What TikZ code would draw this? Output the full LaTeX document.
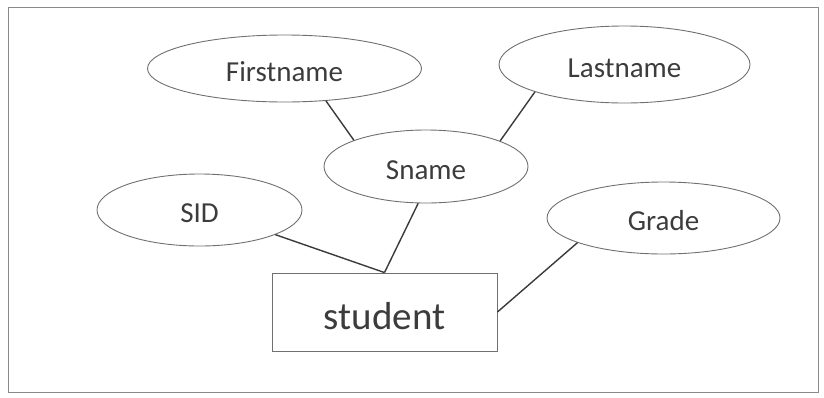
\documentclass[tikz,border=0pt]{standalone}
\usepackage{fontspec}
\setmainfont{Carlito}
\usetikzlibrary{shapes.geometric}
\definecolor{txt}{HTML}{3C3C3C}
\definecolor{edge}{HTML}{707070}
\definecolor{conn}{HTML}{3A3A3A}
\definecolor{frame}{HTML}{8A8A8A}
\begin{document}
\begin{tikzpicture}[x=1pt,y=-1pt,
  attr/.style={ellipse, draw=edge, line width=0.9pt, inner sep=0pt, text=txt,
    text height=25pt, text depth=0pt,
    font=\fontsize{29}{34}\selectfont},
  entity/.style={rectangle, draw=edge, line width=0.9pt, inner sep=0pt, text=txt,
    text height=34pt, text depth=0pt,
    minimum width=225pt, minimum height=78pt, font=\fontsize{39}{46}\selectfont},
  link/.style={draw=conn, line width=1.4pt}]
\useasboundingbox (0,0) rectangle (824,397);
\draw[frame, line width=0.9pt] (8,7) rectangle (818,392);
\node[attr, minimum width=274pt, minimum height=67pt] (first) at (284.5,68.5) {Firstname};
\node[attr, minimum width=251pt, minimum height=77pt] (last) at (624.5,64.5) {Lastname};
\node[attr, minimum width=204pt, minimum height=73pt] (sname) at (426,166.5) {Sname};
\node[attr, minimum width=205pt, minimum height=72pt] (sid) at (199.5,210) {SID};
\node[attr, minimum width=233pt, minimum height=72pt] (grade) at (663.5,218) {Grade};
\node[entity] (student) at (384.5,312) {student};
\draw[link] (first.-38) -- (sname.160.7);
\draw[link] (last.-163.2) -- (sname.19.8);
\draw[link] (sname.-102.4) -- (student.north);
\draw[link] (sid.-18.9) -- (student.north);
\draw[link] (grade.-164) -- (student.east);
\end{tikzpicture}
\end{document}
